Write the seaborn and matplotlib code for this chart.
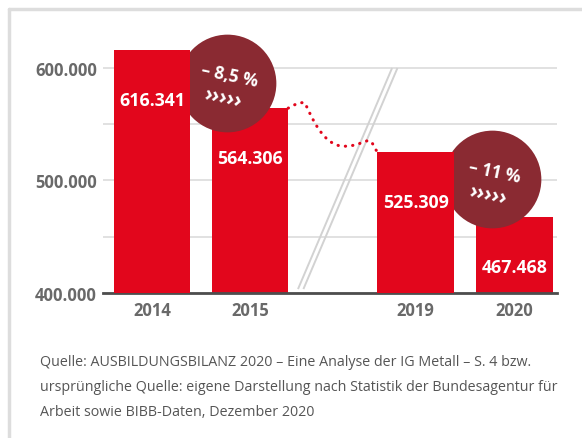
import numpy as np
import pandas as pd
import seaborn as sns
import matplotlib.pyplot as plt
from matplotlib.lines import Line2D

# data
years = ["2014", "2015", "2019", "2020"]
positions = [0, 1, 2.69, 3.70]          # gap between 2015 and 2019
values = [616341, 564306, 525309, 467468]
value_labels = ["616.341", "564.306", "525.309", "467.468"]
changes = ["– 8,5 %", "– 11 %"]
ytick_values = [400000, 500000, 600000]
ytick_labels = ["400.000", "500.000", "600.000"]
source_lines = [
    "Quelle: AUSBILDUNGSBILANZ 2020 – Eine Analyse der IG Metall – S. 4 bzw.",
    "ursprüngliche Quelle: eigene Darstellung nach Statistik der Bundesagentur für",
    "Arbeit sowie BIBB-Daten, Dezember 2020",
]

RED = "#e2061c"
DARK = "#8a2a32"
GREY_TXT = "#696969"
GRID = "#dcdcdc"

sns.set_style("white")
plt.rcParams["font.family"] = ["Open Sans", "DejaVu Sans"]

fig = plt.figure(figsize=(5.82, 4.39), dpi=100)
ax = fig.add_axes([103 / 582, (439 - 294) / 439, 454 / 582, 270 / 439])

df = pd.DataFrame({"pos": positions, "value": values})
sns.barplot(data=df, x="pos", y="value", native_scale=True, width=0.78,
            color=RED, saturation=1, errorbar=None, linewidth=0, ax=ax)

ax.set_xlim(-0.5, 4.133)
ax.set_ylim(400000, 640000)
ax.set_xticks(positions, years)
ax.set_yticks(ytick_values, ytick_labels)
ax.set_yticks([450000, 550000], minor=True)
ax.yaxis.grid(True, which="both", color=GRID, lw=1.2)
ax.set_axisbelow(True)
ax.set_xlabel("")
ax.set_ylabel("")
ax.tick_params(axis="y", which="both", length=0, pad=4.5, labelsize=12, labelcolor=GREY_TXT)
ax.tick_params(axis="x", length=0, pad=6, labelsize=12, labelcolor=GREY_TXT)
for lab in ax.get_xticklabels() + ax.get_yticklabels():
    lab.set_fontweight("bold")
for s in ["left", "right", "top"]:
    ax.spines[s].set_visible(False)
ax.spines["bottom"].set_color("#4d4d4d")
ax.spines["bottom"].set_linewidth(2)

# bars of the first year of each pair sit on top of the circle
for i, bar in enumerate(ax.patches):
    bar.set_zorder(3 if i % 2 == 0 else 1.5)

for p, v, lbl in zip(positions, values, value_labels):
    ax.annotate(lbl, (p, v), xytext=(0, -36), textcoords="offset points",
                ha="center", va="center", color="white", fontsize=12.8,
                fontweight="bold", zorder=5)

# change circles
circle_x = [positions[0] + 0.77, positions[2] + 0.78]
circle_y = [587000, 500900]
ax.scatter(circle_x, circle_y, s=4950, color=DARK, linewidths=0, zorder=2)
for cx, cy, txt in zip(circle_x, circle_y, changes):
    ax.annotate(txt, (cx, cy), xytext=(1.8, 5.6), textcoords="offset points",
                ha="center", va="center", color="white", fontsize=12.3,
                fontweight="bold", rotation=-12, zorder=4)
    ax.annotate("›››››", (cx, cy), xytext=(-3.2, -10.5), textcoords="offset points",
                ha="center", va="center", color="white", fontsize=15,
                fontweight="bold", rotation=-12, zorder=4)

# axis break marks
for dx in (0, 0.055):
    ax.plot([2.45 + dx, 1.49 + dx], [600000, 403500], color="#d2d2d2",
            lw=1.4, zorder=1.8, solid_capstyle="butt")


# dotted connector between 2015 and 2019
def bezier(p0, p1, p2, p3, n=40):
    t = np.linspace(0, 1, n)[:, None]
    p0, p1, p2, p3 = map(np.asarray, (p0, p1, p2, p3))
    return ((1 - t) ** 3) * p0 + 3 * ((1 - t) ** 2) * t * p1 + 3 * (1 - t) * t ** 2 * p2 + t ** 3 * p3


start = (positions[1] + 0.39, values[1])
end = (positions[2] - 0.39, values[2])
segs = [
    bezier(start, (1.45, 567500), (1.52, 570000), (1.56, 569000)),
    bezier((1.56, 569000), (1.63, 556000), (1.75, 531000), (1.95, 530500)),
    bezier((1.95, 530500), (2.08, 530000), (2.16, 535000), (2.21, 535500)),
    bezier((2.21, 535500), (2.25, 535500), (2.27, 528500), end),
]
curve = np.vstack(segs)
ax.plot(curve[:, 0], curve[:, 1], color=RED, lw=2.2, linestyle=(0, (0.1, 2.3)),
        dash_capstyle="round", zorder=2.5)

# frame lines
fig.add_artist(Line2D([9 / 582, 9 / 582], [0, 1 - 10 / 439], color="#dddddd", lw=2.5))
fig.add_artist(Line2D([9 / 582, 1], [1 - 10 / 439, 1 - 10 / 439], color="#dddddd", lw=2.5))

for i, line in enumerate(source_lines):
    fig.text(40 / 582, 1 - (363 + 25 * i) / 439, line, ha="left", va="center",
             fontsize=10.3, color="#555555")

fig.savefig("out.png", dpi=100)
